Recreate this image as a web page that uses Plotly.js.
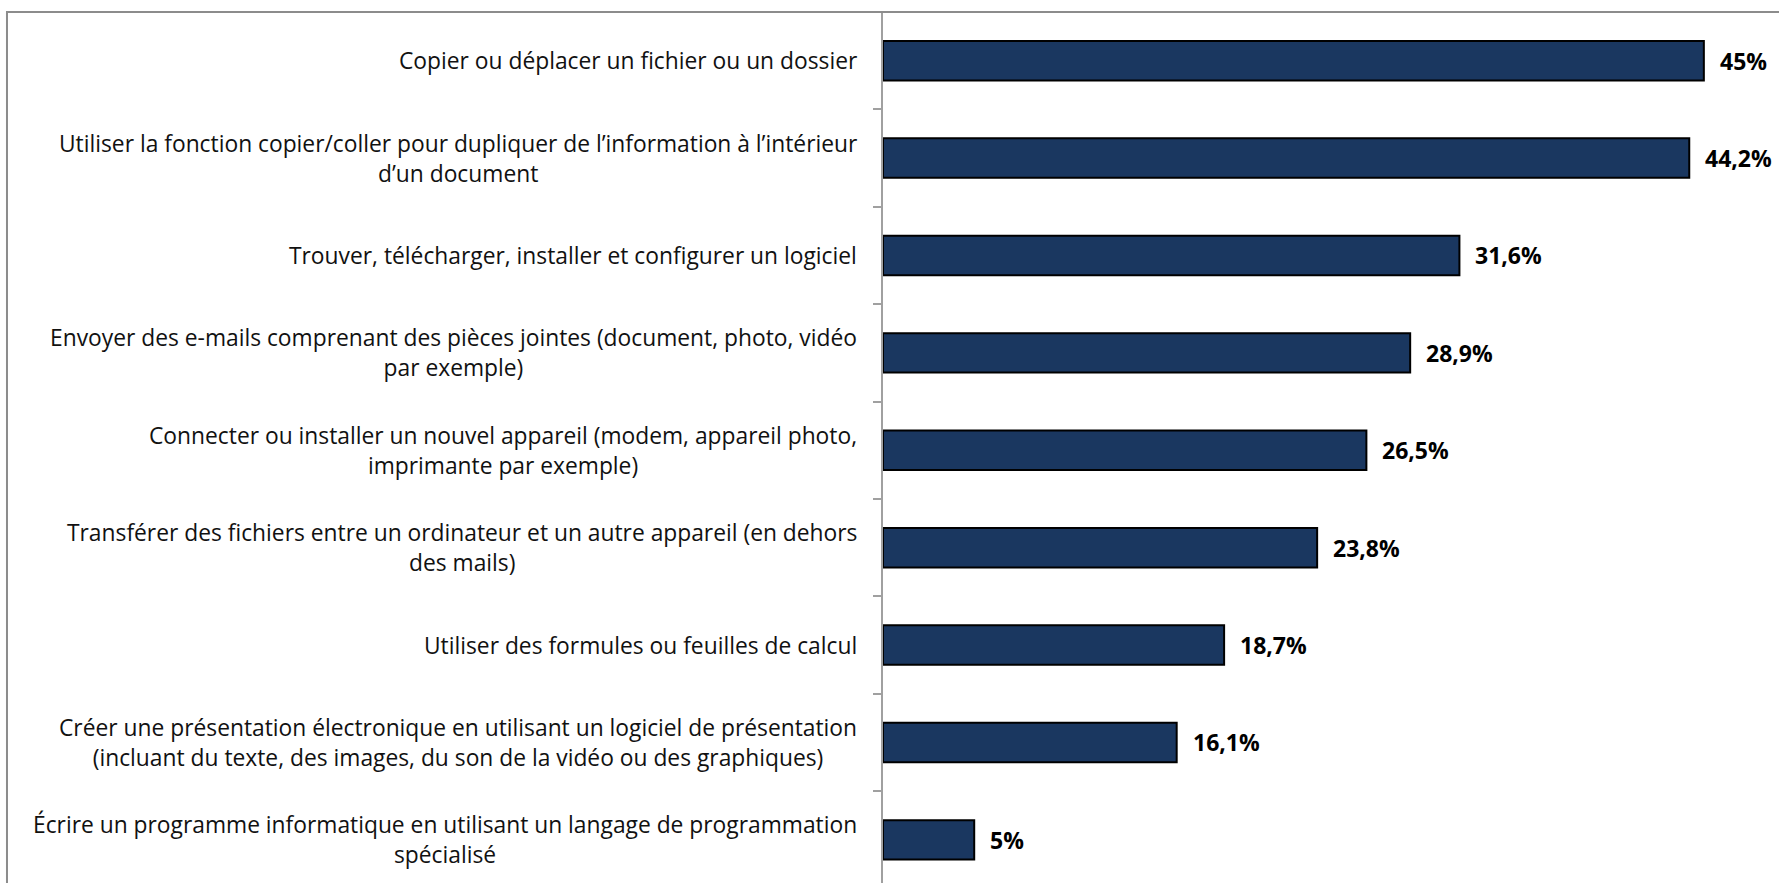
<!DOCTYPE html>
<html>
<head>
<meta charset="utf-8">
<script src="https://cdn.plot.ly/plotly-3.0.1.min.js"></script>
<style>
html,body{margin:0;padding:0;background:#fff;overflow:hidden;}
#chart{width:1779px;height:883px;}
</style>
</head>
<body>
<div id="chart"></div>
<script>
var categories = [
  "Copier ou déplacer un fichier ou un dossier",
  "Utiliser la fonction copier/coller pour dupliquer de l’information à l’intérieur<br>d’un document",
  "Trouver, télécharger, installer et configurer un logiciel",
  "Envoyer des e-mails comprenant des pièces jointes (document, photo, vidéo<br>par exemple)",
  "Connecter ou installer un nouvel appareil (modem, appareil photo,<br>imprimante par exemple)",
  "Transférer des fichiers entre un ordinateur et un autre appareil (en dehors<br>des mails)",
  "Utiliser des formules ou feuilles de calcul",
  "Créer une présentation électronique en utilisant un logiciel de présentation<br>(incluant du texte, des images, du son de la vidéo ou des graphiques)",
  "Écrire un programme informatique en utilisant un langage de programmation<br>spécialisé"
];
var values = [45, 44.2, 31.6, 28.9, 26.5, 23.8, 18.7, 16.1, 5];

function fmt(v){ return String(v).replace('.', ',') + '%'; }

var trace = {
  type: 'bar',
  orientation: 'h',
  x: values,
  y: categories,
  marker: {color: '#1A3760', line: {color: '#000000', width: 2}},
  hoverinfo: 'skip',
  showlegend: false
};

var annotations = [];
categories.forEach(function(c, i){
  annotations.push({
    xref: 'paper', yref: 'y', x: 0, y: c,
    xanchor: 'right', yanchor: 'middle', xshift: -24,
    text: c, showarrow: false, align: 'center',
    font: {family: '"Open Sans", Lato, sans-serif', size: 22.8, color: '#111'}
  });
  annotations.push({
    xref: 'x', yref: 'y', x: values[i], y: c,
    xanchor: 'left', yanchor: 'middle', xshift: 14,
    text: '<b>' + fmt(values[i]) + '</b>', showarrow: false,
    font: {family: '"Open Sans", Lato, sans-serif', size: 23, color: '#000'}
  });
});

var layout = {
  width: 1779, height: 883,
  margin: {l: 883, r: 0, t: 12, b: 0, pad: 0},
  paper_bgcolor: '#ffffff', plot_bgcolor: '#ffffff',
  bargap: 0.595,
  xaxis: {range: [0, 49.12], showgrid: false, zeroline: false, showline: false,
          showticklabels: false, ticks: ''},
  yaxis: {type: 'category', categoryorder: 'array', categoryarray: categories,
          range: [8.443, -0.5], showgrid: false, zeroline: false,
          showline: true, linecolor: '#a0a0a0', linewidth: 2,
          ticks: 'outside', tickson: 'boundaries', ticklen: 8, tickcolor: '#a0a0a0', tickwidth: 2,
          showticklabels: false},
  shapes: [{type: 'rect', xref: 'paper', yref: 'paper',
            x0: -0.9777, x1: 1.2, y0: -0.2, y1: 1,
            line: {color: '#8c8c8c', width: 2}, fillcolor: 'rgba(0,0,0,0)', layer: 'above'}],
  annotations: annotations
};

Plotly.newPlot('chart', [trace], layout, {displayModeBar: false, staticPlot: true});
</script>
</body>
</html>
